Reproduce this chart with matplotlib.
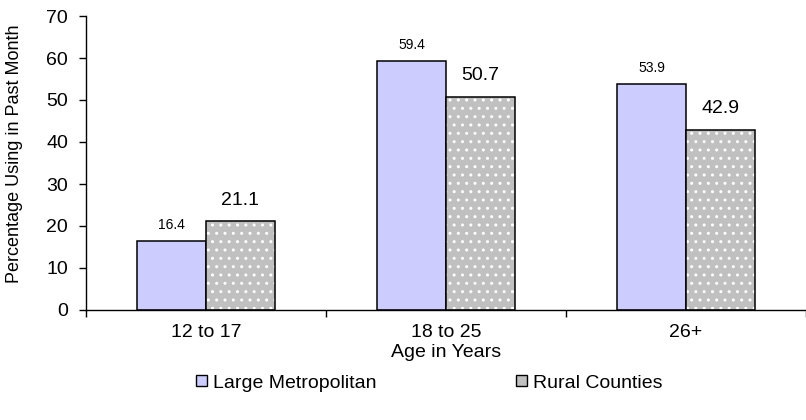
import numpy as np
import matplotlib
matplotlib.use('Agg')
import matplotlib.pyplot as plt
from matplotlib.patches import Patch

plt.rcParams['font.family'] = ['Liberation Sans', 'DejaVu Sans']
plt.rcParams['hatch.linewidth'] = 1.0

age_groups = ['12 to 17', '18 to 25', '26+']
metro = [16.4, 59.4, 53.9]
rural = [21.1, 50.7, 42.9]

metro_color = '#CCCCFF'
rural_color = '#C0C0C0'

fig = plt.figure(figsize=(8.06, 4.2), dpi=100)
ax = fig.add_axes([86 / 806, 110 / 420, 720 / 806, 294 / 420])

x = np.arange(len(age_groups))
w = 0.2875

# metro bars
ax.bar(x - w / 2, metro, w, color=metro_color, edgecolor='black', linewidth=1.1, zorder=2)

# rural bars: dotted fill first, then the black outline on top
ax.bar(x + w / 2, rural, w, color=rural_color, edgecolor='white', hatch='..', linewidth=0, zorder=2)
ax.bar(x + w / 2, rural, w, fill=False, edgecolor='black', linewidth=1.1, zorder=3)

for xi, v in zip(x - w / 2, metro):
    ax.annotate(f'{v}', (xi, v), xytext=(0, 8.6), textcoords='offset points',
                ha='center', va='baseline', fontsize=10)
for xi, v in zip(x + w / 2, rural):
    ax.annotate(f'{v}', (xi, v), xytext=(0, 12), textcoords='offset points',
                ha='center', va='baseline', fontsize=14)

ax.set_xlim(-0.5, len(age_groups) - 0.5)
ax.set_ylim(0, 70)
ax.set_yticks(range(0, 71, 10))

ax.set_xticks(x)
ax.set_xticklabels(age_groups, fontsize=14)
ax.set_xticks(np.arange(-0.5, len(age_groups)), minor=True)
ax.tick_params(axis='x', which='major', length=0, pad=10)
ax.tick_params(axis='x', which='minor', length=5, width=1, direction='out')
ax.tick_params(axis='y', length=5, width=1, direction='out', pad=8, labelsize=14)

for s in ['top', 'right']:
    ax.spines[s].set_visible(False)
ax.spines['left'].set_linewidth(1)
ax.spines['bottom'].set_linewidth(1)

ax.set_xlabel('Age in Years', fontsize=14, labelpad=2)

fig.text(15 / 806, (420 - 283) / 420, 'Percentage Using in Past Month', rotation=90,
         ha='center', va='bottom', fontsize=13)

handles = [Patch(facecolor=metro_color, edgecolor='black', linewidth=1),
           Patch(facecolor=rural_color, edgecolor='black', linewidth=1)]
fig.legend(handles, ['Large Metropolitan', 'Rural Counties'], ncol=2, frameon=False,
           loc='center left', bbox_to_anchor=(196 / 806, (420 - 383) / 420),
           fontsize=14, handlelength=0.55, handleheight=0.55, handletextpad=0.3,
           columnspacing=7.2, borderpad=0, borderaxespad=0)

fig.savefig('out.png', dpi=100)
